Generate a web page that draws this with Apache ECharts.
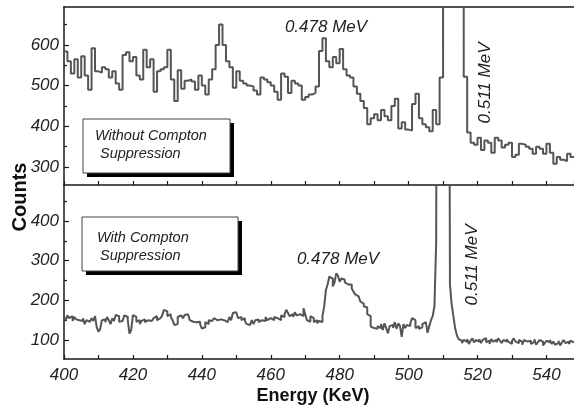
<!DOCTYPE html>
<html>
<head>
<meta charset="utf-8">
<script src="https://cdn.jsdelivr.net/npm/echarts@6/dist/echarts.min.js"></script>
<style>html,body{margin:0;padding:0;background:#fff;}#c{width:574px;height:408px;}</style>
</head>
<body>
<div id="c"></div>
<script>
// ---- data ----
const energyStart = 400;          // keV, left edge of first bin
const energyEnd = 548;            // keV, right edge of last bin
const topBinWidth = 1;            // keV
const bottomBinWidth = 0.5;       // keV
// Without Compton suppression (1 keV bins, 400..547); 2000 = off scale
const topCounts = [
  584,560,530,565,520,572,525,490,592,535,
  532,545,540,520,535,505,490,575,582,560,
  570,525,515,588,545,565,485,535,540,545,
  588,515,462,538,492,512,515,510,490,525,
  500,478,515,540,600,650,600,560,545,495,
  535,512,505,500,498,488,478,520,515,508,
  500,485,465,530,522,482,512,505,500,465,
  472,478,482,498,585,616,560,545,570,555,
  590,540,525,520,498,480,462,445,405,420,
  430,415,440,425,415,450,468,395,410,392,
  390,455,480,420,405,398,388,440,405,520,
  2000,2000,2000,2000,2000,2000,522,385,360,355,
  372,342,365,360,335,372,365,348,355,360,
  325,330,357,355,350,345,333,350,345,333,
  357,335,308,325,318,315,333,325
];
// With Compton suppression (0.5 keV bins, 400..547.5); 2000 = off scale
const bottomCounts = [
  158,150,162,155,160,148,158,152,150,145,
  148,155,140,150,146,142,155,148,160,132,
  121,128,150,152,145,158,150,140,155,148,
  163,160,146,148,145,162,158,150,116,125,
  163,158,146,150,140,148,152,145,150,155,
  148,152,155,160,150,155,160,162,176,172,
  160,165,158,150,138,140,158,162,160,155,
  163,165,160,150,146,148,145,150,146,140,
  129,132,145,140,150,148,151,155,150,146,
  152,148,150,155,145,150,158,150,168,170,
  166,155,158,150,155,148,140,138,142,150,
  140,150,152,145,150,155,148,158,150,155,
  160,150,158,155,160,150,162,158,165,176,
  168,160,165,158,170,162,165,168,160,180,
  165,150,146,160,155,145,150,142,148,145,
  160,184,226,240,260,255,235,245,268,262,
  247,255,252,245,240,238,240,230,222,215,
  210,205,197,192,185,182,165,160,134,130,
  132,128,135,130,140,125,142,130,117,135,
  138,130,145,128,142,135,108,140,130,138,
  135,142,155,150,130,135,128,132,140,145,
  142,118,135,150,160,185,344,2000,2000,2000,
  2000,2000,2000,2000,240,190,160,130,112,102,
  98,92,100,95,102,90,98,104,94,100,
  96,102,92,100,105,95,98,90,102,96,
  100,94,104,98,92,100,96,102,95,90,
  98,104,96,92,100,95,88,100,96,92,
  98,90,95,102,88,94,100,96,86,92,
  98,94,100,90,96,88,92,98,86,94,
  100,92,96,90,98,94
];
const xTickLabels = [400,420,440,460,480,500,520,540];
const topYLabels = [300,400,500,600];
const topYMinor = [350,450,550,650];
const bottomYLabels = [100,200,300,400];
const bottomYMinor = [150,250,350,450];
const topYRange = [256, 693];
const bottomYRange = [52, 491];

function toSteps(counts, width) {
  const pts = counts.map((v, i) => [energyStart + i * width, v]);
  pts.push([energyStart + counts.length * width, counts[counts.length - 1]]);
  return pts;
}

const FONT = '"Liberation Sans", Arial, Helvetica, sans-serif';
const AX = '#1a1a1a';
const chart = echarts.init(document.getElementById('c'), null, {renderer: 'canvas'});

const labelStyle = {fontFamily: FONT, fontStyle: 'italic', fontSize: 17, color: '#222'};

function yMajor(grid, range, labels) {
  return {
    type: 'value', gridIndex: grid, position: 'left', min: range[0], max: range[1],
    axisLine: {show: true, onZero: false, lineStyle: {color: AX, width: 1.5}},
    axisTick: {show: true, inside: true, length: 5, customValues: labels, lineStyle: {color: AX, width: 1.2}},
    axisLabel: Object.assign({show: true, margin: 5, customValues: labels}, labelStyle),
    splitLine: {show: false}
  };
}
function yMinor(grid, range, minors) {
  return {
    type: 'value', gridIndex: grid, position: 'left', min: range[0], max: range[1],
    axisLine: {show: false},
    axisTick: {show: true, inside: true, length: 3, customValues: minors, lineStyle: {color: AX, width: 1.2}},
    axisLabel: {show: false},
    splitLine: {show: false}
  };
}

const option = {
  animation: false,
  backgroundColor: '#fff',
  grid: [
    {left: 64, top: 7, right: 0, height: 178},
    {left: 64, top: 185, right: 0, height: 174}
  ],
  xAxis: [
    {
      type: 'value', gridIndex: 0, position: 'bottom', min: energyStart, max: energyEnd, interval: 10,
      axisLine: {show: true, onZero: false, lineStyle: {color: AX, width: 1.5}},
      axisTick: {show: true, inside: true, length: 4, lineStyle: {color: AX, width: 1.2}},
      axisLabel: {show: false}, splitLine: {show: false}
    },
    {
      type: 'value', gridIndex: 0, position: 'top', min: energyStart, max: energyEnd,
      axisLine: {show: true, onZero: false, lineStyle: {color: AX, width: 1.5}},
      axisTick: {show: false}, axisLabel: {show: false}, splitLine: {show: false}
    },
    {
      type: 'value', gridIndex: 1, position: 'bottom', min: energyStart, max: energyEnd, interval: 10,
      axisLine: {show: true, onZero: false, lineStyle: {color: AX, width: 1.5}},
      axisTick: {show: true, inside: true, length: 4, lineStyle: {color: AX, width: 1.2}},
      axisLabel: Object.assign({
        show: true, margin: 8, showMaxLabel: false,
        formatter: v => (xTickLabels.indexOf(v) >= 0 ? String(v) : '')
      }, labelStyle),
      splitLine: {show: false}
    }
  ],
  yAxis: [
    yMajor(0, topYRange, topYLabels),
    yMinor(0, topYRange, topYMinor),
    yMajor(1, bottomYRange, bottomYLabels),
    yMinor(1, bottomYRange, bottomYMinor)
  ],
  series: [
    {
      type: 'line', xAxisIndex: 0, yAxisIndex: 0, step: 'end', symbol: 'none', clip: true,
      lineStyle: {color: '#555', width: 2}, data: toSteps(topCounts, topBinWidth)
    },
    {
      type: 'line', xAxisIndex: 2, yAxisIndex: 2, step: 'end', symbol: 'none', clip: true,
      lineStyle: {color: '#555', width: 2}, data: toSteps(bottomCounts, bottomBinWidth)
    }
  ],
  graphic: [
    // box top
    {type: 'rect', shape: {x: 87, y: 123, width: 147, height: 54}, style: {fill: '#000'}, z: 100},
    {type: 'rect', shape: {x: 83, y: 119, width: 147, height: 54}, style: {fill: '#fff', stroke: '#444', lineWidth: 1}, z: 101},
    {type: 'text', x: 95, y: 136, style: {text: 'Without Compton', font: 'italic 14.5px ' + FONT, fill: '#222', textVerticalAlign: 'middle'}, z: 102},
    {type: 'text', x: 100, y: 154, style: {text: 'Suppression', font: 'italic 14.5px ' + FONT, fill: '#222', textVerticalAlign: 'middle'}, z: 102},
    // box bottom
    {type: 'rect', shape: {x: 86, y: 221, width: 156, height: 54}, style: {fill: '#000'}, z: 100},
    {type: 'rect', shape: {x: 82, y: 217, width: 156, height: 54}, style: {fill: '#fff', stroke: '#444', lineWidth: 1}, z: 101},
    {type: 'text', x: 97, y: 238, style: {text: 'With Compton', font: 'italic 14.5px ' + FONT, fill: '#222', textVerticalAlign: 'middle'}, z: 102},
    {type: 'text', x: 100, y: 256, style: {text: 'Suppression', font: 'italic 14.5px ' + FONT, fill: '#222', textVerticalAlign: 'middle'}, z: 102},
    // annotations
    {type: 'text', x: 326, y: 27, style: {text: '0.478 MeV', font: 'italic 17px ' + FONT, fill: '#222', textAlign: 'center', textVerticalAlign: 'middle'}, z: 102},
    {type: 'text', x: 485, y: 83, rotation: Math.PI / 2, style: {text: '0.511 MeV', font: 'italic 17px ' + FONT, fill: '#222', textAlign: 'center', textVerticalAlign: 'middle'}, z: 102},
    {type: 'text', x: 338, y: 259, style: {text: '0.478 MeV', font: 'italic 17px ' + FONT, fill: '#222', textAlign: 'center', textVerticalAlign: 'middle'}, z: 102},
    {type: 'text', x: 472, y: 265, rotation: Math.PI / 2, style: {text: '0.511 MeV', font: 'italic 17px ' + FONT, fill: '#222', textAlign: 'center', textVerticalAlign: 'middle'}, z: 102},
    // axis titles
    {type: 'text', x: 20, y: 197, rotation: Math.PI / 2, style: {text: 'Counts', font: 'bold 20px ' + FONT, fill: '#111', textAlign: 'center', textVerticalAlign: 'middle'}, z: 102},
    {type: 'text', x: 313, y: 396, style: {text: 'Energy (KeV)', font: 'bold 18px ' + FONT, fill: '#111', textAlign: 'center', textVerticalAlign: 'middle'}, z: 102}
  ]
};
chart.setOption(option);
</script>
</body>
</html>
